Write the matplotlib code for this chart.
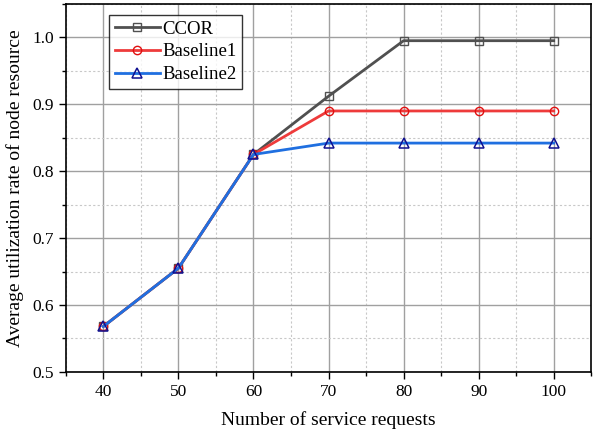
import matplotlib
matplotlib.use("Agg")
import matplotlib.pyplot as plt
from matplotlib.ticker import MultipleLocator, FormatStrFormatter

plt.rcParams['font.family'] = ['Liberation Serif', 'DejaVu Serif']

requests = [40, 50, 60, 70, 80, 90, 100]
ccor = [0.568, 0.655, 0.825, 0.912, 0.995, 0.995, 0.995]
baseline1 = [0.568, 0.655, 0.825, 0.890, 0.890, 0.890, 0.890]
baseline2 = [0.568, 0.655, 0.825, 0.842, 0.842, 0.842, 0.842]

fig = plt.figure(figsize=(5.93, 4.33), dpi=100)
ax = fig.add_axes([0.111, 0.141, 0.886, 0.85])

ax.plot(requests, ccor, color='#505050', lw=2, marker='s', ms=6,
        mfc='none', mec='#505050', mew=1, label='CCOR', zorder=3)
ax.plot(requests, baseline1, color='#ee3b3b', lw=2, marker='o', ms=6,
        mfc='none', mec='#e01010', mew=1, label='Baseline1', zorder=4)
ax.plot(requests, baseline2, color='#1f6fe0', lw=2, marker='^', ms=7,
        mfc='none', mec='#101090', mew=1.1, label='Baseline2', zorder=5)

ax.set_xlim(35, 105)
ax.set_ylim(0.5, 1.05)
ax.xaxis.set_major_locator(MultipleLocator(10))
ax.xaxis.set_minor_locator(MultipleLocator(5))
ax.yaxis.set_major_locator(MultipleLocator(0.1))
ax.yaxis.set_minor_locator(MultipleLocator(0.05))
ax.yaxis.set_major_formatter(FormatStrFormatter('%.1f'))

ax.grid(which='major', color='#a0a0a0', lw=1, ls='-')
ax.grid(which='minor', color='#c8c8c8', lw=0.8, ls=(0, (2, 2)))
ax.set_axisbelow(True)

ax.tick_params(which='both', direction='out', labelsize=12.5, width=1)
ax.tick_params(which='major', length=5)
ax.tick_params(which='minor', length=3)
for s in ax.spines.values():
    s.set_linewidth(1.2)

ax.set_xlabel('Number of service requests', fontsize=14, labelpad=8)
ax.set_ylabel('Average utilization rate of node resource', fontsize=14, labelpad=6)

leg = ax.legend(loc='upper left', bbox_to_anchor=(0.082, 0.97), fontsize=13.5,
                frameon=True, fancybox=False, edgecolor='black',
                handlelength=2.4, handletextpad=0.15, borderpad=0.3,
                borderaxespad=0, labelspacing=0.3)
leg.get_frame().set_linewidth(1)
leg._legend_box.sep = 2

fig.savefig('out.png', dpi=100)
